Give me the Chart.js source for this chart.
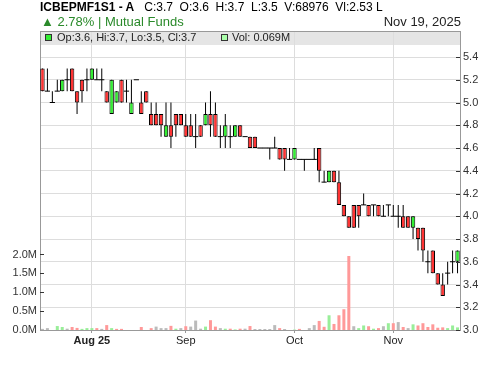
<!DOCTYPE html>
<html><head><meta charset="utf-8">
<script src="https://cdn.jsdelivr.net/npm/chart.js@4.4.1/dist/chart.umd.min.js"></script>
<style>
html,body{margin:0;padding:0;background:#fff;}
#wrap{position:relative;width:500px;height:366px;overflow:hidden;font-family:"Liberation Sans",Arial,sans-serif;}
canvas{position:absolute;left:0;top:0;}
.t{position:absolute;white-space:pre;line-height:1;}
.sq{position:absolute;width:5px;height:5px;border:1px solid #333;}
</style></head><body>
<div id="wrap">
<canvas id="c" width="500" height="366"></canvas>
<div class="t" style="left:40px;top:1px;font-size:12px;color:#000"><b>ICBEPMF1S1 - A</b>   C:3.7  O:3.6  H:3.7  L:3.5  V:68976  Vl:2.53 L</div>
<div class="t" style="left:41px;top:15px;font-size:13px;color:#2a8a2a">▲ 2.78% | Mutual Funds</div>
<div class="t" style="right:39px;top:15px;font-size:13px;color:#222">Nov 19, 2025</div>
<div class="sq" style="left:45px;top:34px;background:#33ee33"></div>
<div class="t" style="left:57px;top:32px;font-size:11px;color:#222">Op:3.6, Hi:3.7, Lo:3.5, Cl:3.7</div>
<div class="sq" style="left:221px;top:34px;background:#aaffaa"></div>
<div class="t" style="left:232px;top:32px;font-size:11px;color:#222">Vol: 0.069M</div>
</div>
<script>
const dates = [
 '2025-07-18','2025-07-21','2025-07-22','2025-07-23','2025-07-24','2025-07-25','2025-07-28','2025-07-29','2025-07-30','2025-07-31',
 '2025-08-01','2025-08-04','2025-08-05','2025-08-06','2025-08-07','2025-08-08','2025-08-11','2025-08-12','2025-08-13','2025-08-14',
 '2025-08-18','2025-08-19','2025-08-20','2025-08-21','2025-08-22','2025-08-25','2025-08-26','2025-08-28','2025-08-29',
 '2025-09-01','2025-09-02','2025-09-03','2025-09-04','2025-09-05','2025-09-08','2025-09-09','2025-09-10','2025-09-11','2025-09-12',
 '2025-09-15','2025-09-16','2025-09-17','2025-09-18','2025-09-19','2025-09-22','2025-09-23','2025-09-24','2025-09-25','2025-09-26',
 '2025-09-29','2025-09-30',
 '2025-10-01','2025-10-03','2025-10-06','2025-10-07','2025-10-08','2025-10-09','2025-10-10','2025-10-13','2025-10-14','2025-10-15',
 '2025-10-16','2025-10-17','2025-10-20','2025-10-23','2025-10-24','2025-10-27','2025-10-28','2025-10-29','2025-10-30','2025-10-31',
 '2025-11-03','2025-11-04','2025-11-05','2025-11-06','2025-11-07','2025-11-10','2025-11-11','2025-11-12','2025-11-13','2025-11-14',
 '2025-11-17','2025-11-18','2025-11-19','2025-11-20'
];
const open = [
 5.3,5.1,5.0,5.1,5.1,5.2,5.3,5.1,5.2,5.2, 5.2,5.2,5.2,5.1,4.9,5.0,5.2,5.1,4.9,5.2,
 5.0,5.1,4.9,4.9,4.9,4.7,4.8,4.9,4.9,4.8, 4.8,4.7,4.8,4.8,4.9,4.9,4.7,4.7,4.7,4.7,
 4.8,4.7,4.7,4.7,4.6,4.6,4.6,4.6,4.6,4.6, 4.5,4.5,4.5,4.5,4.5,4.5,4.6,4.3,4.3,4.4,
 4.3,4.1,4.0,4.1,4.1,4.1,4.1,4.1,4.1,4.0, 4.1,4.0,4.0,4.0,4.0,3.9,3.9,3.9,3.6,3.7,
 3.5,3.4,3.5,3.6,3.6
];
const high = [
 5.3,5.3,5.1,5.2,5.2,5.3,5.3,5.1,5.2,5.3, 5.3,5.3,5.3,5.1,5.2,5.1,5.2,5.2,5.2,5.2,
 5.1,5.1,5.0,5.0,4.9,5.0,5.0,4.9,4.9,4.9, 4.9,4.9,4.8,5.0,5.1,5.0,4.8,4.9,4.8,4.8,
 4.8,4.7,4.7,4.7,4.6,4.6,4.6,4.7,4.6,4.6, 4.6,4.6,4.5,4.5,4.5,4.6,4.6,4.4,4.4,4.4,
 4.4,4.1,4.0,4.1,4.1,4.2,4.1,4.1,4.1,4.1, 4.1,4.1,4.1,4.1,4.0,4.0,3.9,3.9,3.7,3.7,
 3.5,3.5,3.6,3.7,3.7
];
const low = [
 5.1,5.1,5.0,5.1,5.1,5.1,5.1,4.9,5.0,5.1, 5.2,5.2,5.1,5.0,4.9,5.0,5.0,5.0,4.9,5.2,
 4.9,5.0,4.8,4.8,4.7,4.7,4.6,4.7,4.8,4.7, 4.7,4.6,4.7,4.8,4.7,4.7,4.6,4.6,4.6,4.7,
 4.7,4.7,4.6,4.6,4.6,4.6,4.5,4.6,4.5,4.4, 4.5,4.5,4.5,4.4,4.5,4.5,4.3,4.3,4.3,4.3,
 4.1,4.0,3.9,3.9,3.9,4.1,4.0,4.0,4.0,4.0, 4.0,4.0,3.9,3.9,3.9,3.8,3.7,3.6,3.5,3.5,
 3.4,3.3,3.4,3.5,3.5
];
const close = [
 5.1,5.1,5.0,5.1,5.2,5.2,5.1,5.0,5.1,5.2, 5.3,5.2,5.2,5.0,5.2,5.1,5.0,5.1,5.0,5.2,
 4.9,5.0,4.8,4.8,4.8,4.8,4.7,4.8,4.8,4.7, 4.7,4.7,4.7,4.9,4.8,4.7,4.7,4.8,4.7,4.8,
 4.7,4.7,4.6,4.6,4.6,4.6,4.6,4.6,4.5,4.5, 4.5,4.6,4.5,4.5,4.5,4.5,4.4,4.3,4.4,4.3,
 4.1,4.0,3.9,3.9,4.0,4.1,4.0,4.1,4.0,4.0, 4.1,4.0,4.0,3.9,3.9,4.0,3.8,3.7,3.6,3.5,
 3.4,3.3,3.5,3.6,3.7
];
const volumeM = [
 0.03,0.05,0,0.105,0.08,0.035,0.08,0.055,0.03,0.05, 0.05,0.05,0.03,0.13,0.05,0.03,0.03,0,0,0,
 0.08,0,0.05,0.09,0.05,0.05,0.11,0.035,0.05,0.1, 0.09,0.25,0.035,0.09,0.26,0.09,0.05,0.035,0.035,0.015,
 0.035,0.035,0.105,0.026,0.026,0.026,0.026,0.13,0.05,0.026, 0,0.01,0.03,0,0.05,0.13,0.24,0.085,0.39,0.16,
 0.39,0.55,1.96,0.1,0.05,0.12,0.1,0.035,0.05,0.1, 0.18,0.18,0.21,0.08,0.05,0.15,0.12,0.18,0.08,0.15,
 0.06,0.07,0.05,0.12,0.069
];
const priceTicks = [3.0,3.2,3.4,3.6,3.8,4.0,4.2,4.4,4.6,4.8,5.0,5.2,5.4];
const volumeTicks = [0,0.5,1.0,1.5,2.0];
const xTickLabels = ['Aug 25','Sep','Oct','Nov'];

const UP = '#33ee33', DOWN = '#ff3333';
const VUP = '#99ee99', VDOWN = '#ff9999', VFLAT = '#bbbbbb';
const FONT = '"Liberation Sans", Arial, sans-serif';

const isDoji = open.map((o,i)=> o === close[i]);
const bodyData = open.map((o,i)=> isDoji[i] ? null : [Math.min(o,close[i]), Math.max(o,close[i])]);
const wickData = low.map((l,i)=> [l, high[i]]);
const dojiData = close.map((c,i)=> isDoji[i] ? c : null);
const bodyColors = open.map((o,i)=> close[i] > o ? UP : DOWN);
const volColors = close.map((c,i)=> i===0 ? VFLAT : (c > close[i-1] ? VUP : (c < close[i-1] ? VDOWN : VFLAT)));
const monthStart = i => i > 0 && dates[i].slice(0,7) !== dates[i-1].slice(0,7);

const framePlugin = {
  id:'frame',
  beforeDraw(chart){
    const {ctx, chartArea:a} = chart;
    ctx.save(); ctx.fillStyle = '#e5e5e5';
    ctx.fillRect(a.left, a.top, a.right - a.left, 14);
    ctx.restore();
  },
  afterDraw(chart){
    const {ctx, chartArea:a, scales} = chart;
    ctx.save();
    ctx.lineWidth = 1;
    ctx.strokeStyle = '#999';
    ctx.beginPath(); ctx.moveTo(a.left, a.top + 0.5); ctx.lineTo(a.right + 0.5, a.top + 0.5); ctx.stroke();
    ctx.strokeStyle = '#333';
    ctx.beginPath();
    scales.y.ticks.forEach(t => { const y = Math.round(scales.y.getPixelForValue(t.value)) + 0.5; ctx.moveTo(a.right - 4, y); ctx.lineTo(a.right, y); });
    scales.yv.ticks.forEach(t => { if (t.value === 0) return; const y = Math.round(scales.yv.getPixelForValue(t.value)) + 0.5; ctx.moveTo(a.left, y); ctx.lineTo(a.left + 4, y); });
    ctx.stroke();
    ctx.restore();
  }
};

new Chart(document.getElementById('c'), {
  type:'bar',
  data:{
    labels: dates,
    datasets:[
      { type:'bar', label:'Volume', data: volumeM, yAxisID:'yv', backgroundColor: volColors, barThickness:3, grouped:false, order:4, borderWidth:0, inflateAmount:0 },
      { type:'bar', label:'Range', data: wickData, yAxisID:'y', backgroundColor:'#000', barThickness:1, grouped:false, order:3, borderWidth:0, inflateAmount:0 },
      { type:'bar', label:'Body', data: bodyData, yAxisID:'y', backgroundColor: bodyColors, borderColor:'#000', borderWidth:1, borderSkipped:false, barThickness:4.4, grouped:false, order:2, inflateAmount:0 },
      { type:'line', label:'Flat', data: dojiData, yAxisID:'y', showLine:false, pointStyle:'line', pointRadius:2.6, pointHoverRadius:2.6, pointBorderColor:'#000', pointBorderWidth:1, pointBackgroundColor:'#000', order:1 }
    ]
  },
  options:{
    responsive:false, animation:false, devicePixelRatio:1, events:[],
    layout:{ padding:{ top:31, left:0, right:0, bottom:0 } },
    plugins:{ legend:{display:false}, tooltip:{enabled:false}, title:{display:false} },
    scales:{
      x:{
        type:'category', offset:true,
        grid:{ offset:false, color:'#dddddd', tickLength:3, tickColor:'#999', drawTicks:true },
        border:{ display:true, color:'#999' },
        ticks:{ autoSkip:false, maxRotation:0, padding:1, color:'#222',
          font:(ctx)=>({ family:FONT, size:11, weight: ctx.index === 0 ? 'bold' : 'normal' }),
          callback:(v,i)=> xTickLabels[i] },
        afterBuildTicks:(s)=>{ s.ticks = s.ticks.filter(t => monthStart(t.value)); },
        afterFit:(s)=>{ s.height = 36; }
      },
      y:{
        position:'right', min:3.0, max:5.6286,
        grid:{ color:'#dddddd', drawTicks:false },
        border:{ display:true, color:'#999' },
        ticks:{ padding:3, color:'#333', font:{family:FONT, size:11}, callback:(v)=> Number(v).toFixed(1) },
        afterBuildTicks:(s)=>{ s.ticks = priceTicks.map(v => ({value:v})); },
        afterFit:(s)=>{ s.width = 40; }
      },
      yv:{
        position:'left', min:0, max:7.92,
        grid:{ display:false, drawTicks:false },
        border:{ display:true, color:'#999' },
        ticks:{ padding:3, color:'#333', font:{family:FONT, size:11}, callback:(v)=> Number(v).toFixed(1) + 'M' },
        afterBuildTicks:(s)=>{ s.ticks = volumeTicks.map(v => ({value:v})); },
        afterFit:(s)=>{ s.width = 40; }
      }
    }
  },
  plugins:[framePlugin]
});
</script>
</body></html>
